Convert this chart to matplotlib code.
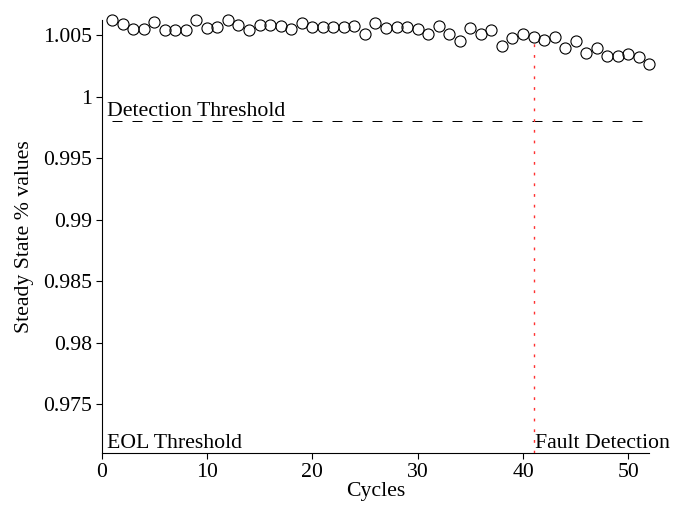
import matplotlib
matplotlib.use("Agg")
import matplotlib.pyplot as plt
from matplotlib.ticker import FuncFormatter

plt.rcParams['font.family'] = ['Liberation Serif', 'DejaVu Serif']
plt.rcParams['mathtext.default'] = 'regular'

cycles = list(range(1, 53))
steady_state = [
    1.00624, 1.00591, 1.00550, 1.00550, 1.00610, 1.00542, 1.00542, 1.00542,
    1.00624, 1.00556, 1.00569, 1.00624, 1.00583, 1.00542, 1.00583, 1.00583,
    1.00575, 1.00548, 1.00597, 1.00564, 1.00564, 1.00564, 1.00564, 1.00577,
    1.00510, 1.00597, 1.00556, 1.00564, 1.00564, 1.00550, 1.00510, 1.00572,
    1.00510, 1.00453, 1.00556, 1.00510, 1.00542, 1.00415, 1.00480, 1.00507,
    1.00483, 1.00459, 1.00483, 1.00393, 1.00453, 1.00353, 1.00393, 1.00333,
    1.00333, 1.00345, 1.00325, 1.00263,
]
detection_threshold = 0.998
eol_threshold = 0.971
fault_cycle = 41
x_ticks = [0, 10, 20, 30, 40, 50]
y_ticks = [0.975, 0.98, 0.985, 0.99, 0.995, 1.0, 1.005]

FS = 15.7

fig = plt.figure(figsize=(6.91, 5.11), dpi=100)
ax = fig.add_axes([0.1469, 0.1129, 0.7930, 0.8480])

ax.plot(cycles, steady_state, linestyle='none', marker='o', markersize=8,
        markerfacecolor='none', markeredgecolor='black', markeredgewidth=0.8,
        clip_on=False, zorder=3)

# Detection threshold
ax.plot([cycles[0], cycles[-1]], [detection_threshold, detection_threshold],
        color='black', lw=0.72, linestyle=(0, (10, 10)))
# EOL threshold
ax.plot([cycles[0], cycles[-1]], [eol_threshold, eol_threshold],
        color='red', lw=0.72, linestyle=(0, (10, 10)), clip_on=False, zorder=1)
# Fault detection
fault_val = steady_state[cycles.index(fault_cycle)]
ax.plot([fault_cycle, fault_cycle], [eol_threshold, fault_val],
        color='#ff3030', lw=1.0, linestyle=(0, (2, 5.7)), zorder=2)

ax.text(0.5, detection_threshold, 'Detection Threshold', fontsize=FS,
        ha='left', va='bottom')
ax.text(0.5, eol_threshold, 'EOL Threshold', fontsize=FS,
        ha='left', va='bottom')
ax.text(fault_cycle + 0.1, eol_threshold, 'Fault Detection', fontsize=FS,
        ha='left', va='bottom')

ax.set_xlim(0, 52)
ax.set_ylim(0.971, 1.00624)
ax.set_xticks(x_ticks)
ax.set_yticks(y_ticks)
ax.yaxis.set_major_formatter(FuncFormatter(lambda v, p: ('%g' % round(v, 4))))
ax.tick_params(direction='out', length=4, width=0.8, labelsize=FS, pad=3)

for s in ['top', 'right']:
    ax.spines[s].set_visible(False)
for s in ['left', 'bottom']:
    ax.spines[s].set_linewidth(0.8)

ax.set_xlabel('Cycles', fontsize=FS, labelpad=0)
ax.set_ylabel('Steady State % values', fontsize=FS, labelpad=6)

fig.savefig('out.png', dpi=100)
